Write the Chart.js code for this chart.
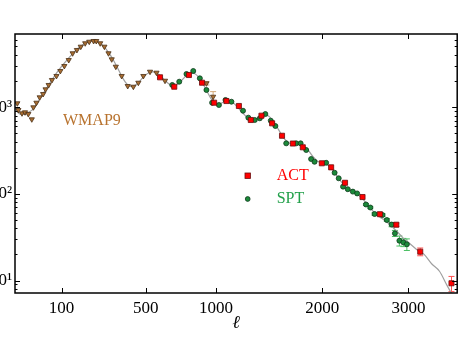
<!DOCTYPE html>
<html>
<head>
<meta charset="utf-8">
<script src="https://cdn.jsdelivr.net/npm/chart.js@4.4.1/dist/chart.umd.min.js"></script>
<style>
  html, body { margin: 0; padding: 0; overflow: hidden; background: #fff; width: 462px; height: 346px; }
  #c { position: absolute; left: -40px; top: 0; }
</style>
</head>
<body>
<canvas id="c" width="502" height="346"></canvas>
<script>
// Multipole tick values on the ℓ axis and power-of-ten ticks on the D_ℓ axis
const XTICKS = [100, 500, 1000, 2000, 3000];
const YTICKS = [10, 100, 1000];
const YTICK_LABELS = ['10¹', '10²', '10³'];

// WMAP9 band powers
const wmapL = [4, 5, 9, 13, 18, 24, 27, 33, 40, 48, 54, 62, 71, 84, 96, 109, 124, 138, 154, 169,
               187, 204, 223, 235, 253, 273, 293, 309, 330, 361, 394, 426, 455, 485, 526, 567, 623, 924, 977];
const wmapD = [1107, 926, 848, 871, 832, 723, 995, 1124, 1297, 1416, 1604, 1799, 2055, 2285, 2608, 2979, 3491, 4176, 4558, 4977,
               5447, 5679, 5785, 5785, 5447, 4977, 4176, 3558, 2925, 2285, 1751, 1718, 1911, 2285, 2560, 2494, 2015, 1880, 1318];
const wmapErr = [0, 0, 0, 0, 0, 0, 0, 0, 0, 0, 0, 0, 0, 0, 0, 0, 0, 0, 0, 0,
                 0, 0, 0, 0, 0, 0, 0, 0, 0, 0, 0, 0, 0, 0, 0, 0, 0, 80, 190];

// ACT band powers
const actL = [590, 686, 791, 890, 985, 1086, 1192, 1297, 1394, 1494, 1589, 1696, 1796, 1995, 2095, 2248, 2447, 2651, 2850, 3150, 3560];
const actD = [2206, 1718, 2345, 1911, 1124, 1175, 1030, 710, 796, 650, 467, 380, 344, 225, 202, 134, 91.8, 58.2, 44, 21.5, 9.3];
const actErr = [0, 0, 0, 0, 0, 0, 0, 0, 0, 0, 0, 0, 0, 0, 0, 0, 0, 0, 2, 2.2, 1.85];

// SPT band powers
const sptL = [672, 721, 773, 823, 873, 924, 969, 1024, 1078, 1128, 1228, 1275, 1333, 1379, 1430, 1481, 1525, 1630, 1729, 1774,
              1831, 1882, 1918, 2041, 2133, 2178, 2226, 2279, 2336, 2385, 2487, 2538, 2588, 2683, 2735, 2792, 2833, 2888, 2937, 2981];
const sptD = [1799, 1963, 2410, 2608, 2148, 1575, 1124, 1057, 1208, 1154, 908, 755, 710, 743, 832, 697, 605, 382, 382, 382,
              320, 252, 234, 228, 175, 151, 121, 113, 106, 101, 75.3, 69.5, 58.5, 56.9, 49.9, 44.2, 35.0, 28.8, 27.6, 26.2];
const sptErr = [0, 0, 0, 0, 0, 0, 0, 0, 0, 0, 0, 0, 0, 0, 0, 0, 0, 0, 0, 0,
                0, 0, 0, 0, 0, 0, 0, 0, 0, 0, 2, 2, 2, 2, 2, 2.5, 2.8, 3.8, 3, 4];

// Best-fit model spectrum
const modelL = [2, 4, 8, 12, 18, 25, 32, 40, 50, 60, 70, 85, 100, 120, 140, 160, 180, 200, 220, 240,
                260, 280, 300, 320, 340, 360, 380, 400, 420, 440, 460, 480, 500, 520, 540, 560, 580, 600, 620, 650,
                680, 700, 730, 760, 790, 815, 840, 870, 900, 930, 960, 990, 1020, 1050, 1080, 1110, 1140, 1180, 1220, 1260,
                1300, 1340, 1380, 1420, 1460, 1500, 1540, 1580, 1620, 1660, 1700, 1750, 1800, 1850, 1900, 1950, 2000, 2050, 2100, 2150,
                2200, 2250, 2300, 2350, 2400, 2450, 2500, 2550, 2600, 2650, 2700, 2750, 2800, 2850, 2900, 2950, 3000, 3100, 3200, 3300,
                3400, 3500, 3600, 3700];
const modelD = [1000, 880, 820, 830, 870, 930, 1040, 1230, 1480, 1750, 2030, 2500, 2950, 3550, 4200, 4800, 5300, 5650, 5780, 5650,
                5280, 4700, 4050, 3400, 2800, 2300, 1950, 1760, 1720, 1800, 1960, 2170, 2360, 2490, 2550, 2520, 2400, 2230, 2050, 1850,
                1760, 1790, 1960, 2220, 2420, 2480, 2400, 2150, 1820, 1500, 1250, 1110, 1070, 1120, 1170, 1180, 1130, 1000, 870, 770,
                715, 720, 770, 810, 790, 700, 590, 490, 420, 385, 375, 375, 360, 320, 270, 238, 226, 218, 195, 165,
                140, 122, 111, 104, 97, 87, 76, 66, 59, 54, 50, 46, 41.5, 37.5, 33.5, 30, 27.5, 23, 20, 15.5,
                12.8, 8.8, 6.2, 4.5];

const pts = (ls, ds) => ls.map((l, i) => ({ x: l, y: ds[i] }));

// ℓ axis: linear in ℓ^0.6, so low multipoles are stretched and the damping tail stays readable
const POW = 0.6;
class PowerScale extends Chart.LinearScale {
  static id = 'power';
  static defaults = {};
  buildTicks() {
    return XTICKS.filter(v => v >= this.min && v <= this.max).map(v => ({ value: v }));
  }
  getPixelForValue(v) {
    const a = Math.pow(this.min, POW), b = Math.pow(this.max, POW);
    return this.getPixelForDecimal((Math.pow(v, POW) - a) / (b - a));
  }
  getValueForPixel(px) {
    const a = Math.pow(this.min, POW), b = Math.pow(this.max, POW);
    return Math.pow(a + this.getDecimalForPixel(px) * (b - a), 1 / POW);
  }
}
Chart.register(PowerScale);

const SERIF = '"Liberation Serif", "Times New Roman", serif';

// vertical error bars with small caps, drawn beneath the markers
const errorBars = {
  id: 'errorBars',
  beforeDatasetsDraw(chart) {
    const { ctx, chartArea: a, scales: { x, y } } = chart;
    ctx.save();
    ctx.beginPath();
    ctx.rect(a.left, a.top, a.width, a.height);
    ctx.clip();
    chart.data.datasets.forEach(ds => {
      if (!ds.err) return;
      ctx.strokeStyle = ds.errColor;
      ctx.lineWidth = 1;
      ds.data.forEach((p, i) => {
        const e = ds.err[i];
        if (!e) return;
        const px = x.getPixelForValue(p.x);
        const y0 = y.getPixelForValue(p.y - e), y1 = y.getPixelForValue(p.y + e);
        ctx.beginPath();
        ctx.moveTo(px, y0); ctx.lineTo(px, y1);
        ctx.moveTo(px - 3, y0); ctx.lineTo(px + 3, y0);
        ctx.moveTo(px - 3, y1); ctx.lineTo(px + 3, y1);
        ctx.stroke();
      });
    });
    ctx.restore();
  }
};

// boxed frame with inward ticks on all four sides
const frame = {
  id: 'frame',
  afterDraw(chart) {
    const { ctx, chartArea: a, scales: { x, y } } = chart;
    ctx.save();
    ctx.strokeStyle = '#000';
    ctx.lineWidth = 1;
    ctx.beginPath();
    XTICKS.forEach(v => {
      const px = Math.round(x.getPixelForValue(v)) + 0.5;
      ctx.moveTo(px, a.bottom); ctx.lineTo(px, a.bottom - 5);
      ctx.moveTo(px, a.top); ctx.lineTo(px, a.top + 5);
    });
    for (let e = 0; e <= 3; e++) {
      for (let k = 1; k <= 9; k++) {
        const v = k * Math.pow(10, e);
        if (v < y.min || v > y.max) continue;
        const py = Math.round(y.getPixelForValue(v)) + 0.5;
        const len = k === 1 ? 5 : 2.5;
        ctx.moveTo(a.left, py); ctx.lineTo(a.left + len, py);
        ctx.moveTo(a.right, py); ctx.lineTo(a.right - len, py);
      }
    }
    ctx.stroke();
    ctx.lineWidth = 1.5;
    ctx.strokeRect(a.left, a.top, a.width, a.height);
    ctx.restore();
  }
};

// in-plot labels: WMAP9 tag and the ACT / SPT key
const labels = {
  id: 'labels',
  afterDatasetsDraw(chart) {
    const { ctx, chartArea: a } = chart;
    ctx.save();
    ctx.font = '16px ' + SERIF;
    ctx.textBaseline = 'middle';
    ctx.textAlign = 'left';
    ctx.fillStyle = '#b8732f';
    ctx.fillText('WMAP9', a.left + 48, a.top + 87);

    const act = chart.data.datasets[0], spt = chart.data.datasets[1];
    // ACT key
    let mx = a.left + 232.7, my = a.top + 141.7;
    ctx.fillStyle = act.backgroundColor; ctx.strokeStyle = act.borderColor; ctx.lineWidth = 0.8;
    ctx.fillRect(mx - 2.7, my - 2.7, 5.4, 5.4); ctx.strokeRect(mx - 2.7, my - 2.7, 5.4, 5.4);
    ctx.fillStyle = '#ff0000';
    ctx.fillText('ACT', a.left + 261.7, my);
    // SPT key
    my = a.top + 165;
    ctx.fillStyle = spt.backgroundColor; ctx.strokeStyle = spt.borderColor;
    ctx.beginPath(); ctx.arc(mx, my, 2.4, 0, Math.PI * 2); ctx.fill(); ctx.stroke();
    ctx.fillStyle = '#22a04a';
    ctx.fillText('SPT', a.left + 261.7, my);
    ctx.restore();
  }
};

new Chart(document.getElementById('c'), {
  type: 'scatter',
  data: {
    datasets: [
      { label: 'ACT', data: pts(actL, actD), err: actErr, errColor: '#ff5050', order: 0,
        pointStyle: 'rect', pointRadius: 3.6, backgroundColor: '#ff0000', borderColor: '#6b0a0a', borderWidth: 0.8 },
      { label: 'SPT', data: pts(sptL, sptD), err: sptErr, errColor: '#4cc065', order: 1,
        pointStyle: 'circle', pointRadius: 2.5, backgroundColor: '#1b8a3a', borderColor: '#0f3a1c', borderWidth: 0.8 },
      { label: 'WMAP9', data: pts(wmapL, wmapD), err: wmapErr, errColor: '#d4a878', order: 2,
        pointStyle: 'triangle', rotation: 180, pointRadius: 3.0, backgroundColor: '#a86d32', borderColor: '#4a3015', borderWidth: 0.8 },
      { label: 'model', data: pts(modelL, modelD), order: 3, showLine: true, pointRadius: 0,
        borderColor: '#a0a0a0', borderWidth: 1.2, cubicInterpolationMode: 'monotone' }
    ]
  },
  options: {
    responsive: false,
    animation: false,
    events: [],
    layout: { padding: { top: 34, right: 1, left: 0, bottom: 0 } },
    plugins: { legend: { display: false }, tooltip: { enabled: false } },
    scales: {
      x: {
        type: 'power', min: 2.17, max: 3637,
        grid: { display: false, drawTicks: false }, border: { display: false },
        ticks: { autoSkip: false, maxRotation: 0, padding: 5, color: '#000',
                 font: { family: SERIF, size: 17 }, callback: v => String(v) },
        title: { display: true, text: 'ℓ', color: '#000',
                 font: { family: '"DejaVu Serif", serif', size: 18, style: 'italic' }, padding: { top: 0, bottom: 12 } },
        afterFit: s => { s.height = 53; }
      },
      y: {
        type: 'logarithmic', min: 7.18, max: 6966,
        grid: { display: false, drawTicks: false }, border: { display: false },
        afterBuildTicks: s => { s.ticks = YTICKS.map(v => ({ value: v })); },
        ticks: { autoSkip: false, padding: 3, color: '#000', font: { family: SERIF, size: 17 },
                 callback: v => { const i = YTICKS.indexOf(v); return i < 0 ? '' : YTICK_LABELS[i]; } },
        afterFit: s => { s.width = 55; }
      }
    }
  },
  plugins: [errorBars, frame, labels]
});
</script>
</body>
</html>
